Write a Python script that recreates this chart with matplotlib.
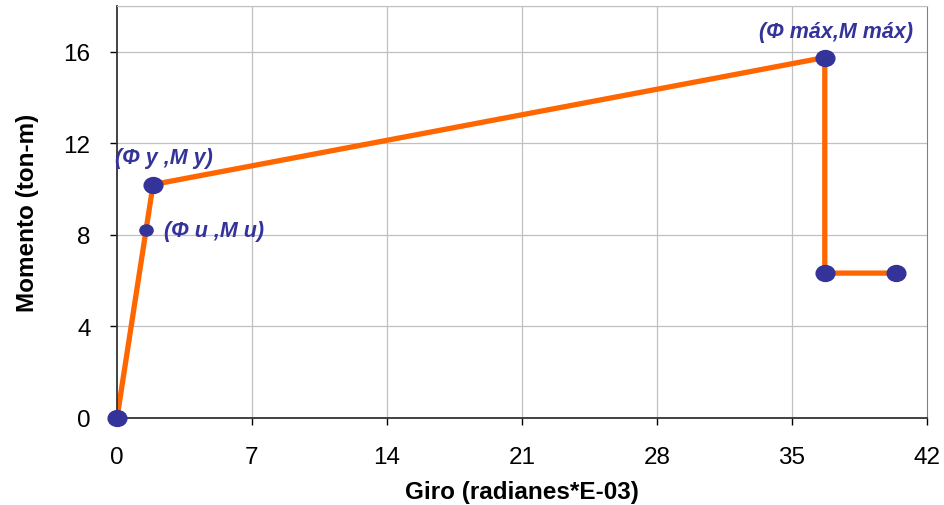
import matplotlib
matplotlib.use("Agg")
import matplotlib.pyplot as plt
from matplotlib.path import Path
import numpy as np

plt.rcParams['font.family'] = ['Liberation Sans', 'DejaVu Sans']

# Moment–rotation curve (rotation in rad*1E-03, moment in ton-m)
giro = [0.0, 1.87, 36.7, 36.7, 40.4]
momento = [0.0, 10.2, 15.75, 6.33, 6.33]

# Ultimate point on the elastic branch
giro_u = [1.5]
momento_u = [8.2]

x_ticks = [0, 7, 14, 21, 28, 35, 42]
y_ticks = [0, 4, 8, 12, 16]

line_color = '#FF6600'
point_color = '#333399'

# Slightly wide elliptical marker
circ = Path.unit_circle()
oval = Path(circ.vertices * np.array([1.18, 1.0]), circ.codes)

fig = plt.figure(figsize=(9.45, 5.06), dpi=100)
ax = fig.add_axes([117 / 945, 1 - 419 / 506, 810 / 945, 412 / 506])

ax.set_xlim(0, 42)
ax.set_ylim(0, 18)

for xv in x_ticks[1:-1]:
    ax.axvline(xv, color='#C0C0C0', lw=0.9, zorder=0)
for yv in y_ticks[1:] + [18]:
    ax.axhline(yv, color='#C0C0C0', lw=0.9, zorder=0)

ax.plot(giro, momento, color=line_color, lw=3.8, solid_joinstyle='miter', zorder=2)
ax.plot(giro, momento, linestyle='none', marker=oval, markersize=13.5,
        color=point_color, zorder=3, clip_on=False)
ax.plot(giro_u, momento_u, linestyle='none', marker=oval, markersize=9.5,
        color=point_color, zorder=3)

ax.set_xticks(x_ticks)
ax.set_yticks(y_ticks)
ax.tick_params(axis='both', direction='out', length=5, width=1, colors='black',
               labelsize=17.5)
ax.tick_params(axis='y', pad=14)
ax.tick_params(axis='x', pad=15)

ax.spines['left'].set_color('#333333')
ax.spines['bottom'].set_color('#333333')
ax.spines['left'].set_linewidth(1.3)
ax.spines['bottom'].set_linewidth(1.3)
ax.spines['right'].set_color('#808080')
ax.spines['top'].set_color('#C0C0C0')

ax.set_xlabel('Giro (radianes*E-03)', fontsize=17.5, fontweight='bold', labelpad=9)
ax.set_ylabel('Momento (ton-m)', fontsize=17.5, fontweight='bold', labelpad=18)

ann = dict(color=point_color, fontsize=15.5, fontweight='bold', style='italic')
ax.text(giro[1] - 1.98, momento[1] + 1.2, '(Φ y ,M y)', ha='left', va='center', **ann)
ax.text(giro_u[0] + 0.95, momento_u[0], '(Φ u ,M u)', ha='left', va='center', **ann)
ax.text(giro[2] + 4.6, momento[2] + 1.15, '(Φ máx,M máx)', ha='right', va='center', **ann)

fig.savefig('out.png', dpi=100)
